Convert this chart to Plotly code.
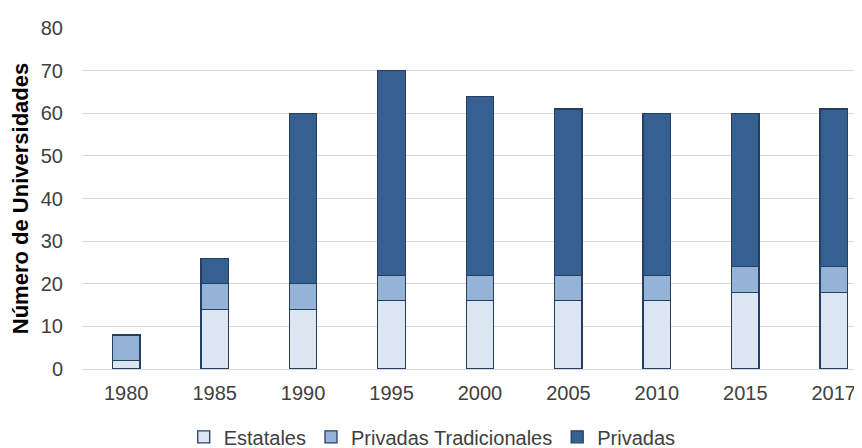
import plotly.graph_objects as go

years = ["1980", "1985", "1990", "1995", "2000", "2005", "2010", "2015", "2017"]
estatales = [2, 14, 14, 16, 16, 16, 16, 18, 18]
privadas_trad = [6, 6, 6, 6, 6, 6, 6, 6, 6]
privadas = [0, 6, 40, 48, 42, 39, 38, 36, 37]
y_ticks = [0, 10, 20, 30, 40, 50, 60, 70, 80]

FONT = "Liberation Sans, Arial, sans-serif"
line = dict(color="#243F60", width=1.3)

fig = go.Figure()
fig.add_trace(go.Bar(x=years, y=estatales, name="Estatales",
                     marker=dict(color="#DCE6F2", line=line)))
fig.add_trace(go.Bar(x=years, y=privadas_trad, name="Privadas Tradicionales",
                     marker=dict(color="#95B3D7", line=line)))
fig.add_trace(go.Bar(x=years, y=privadas, name="Privadas",
                     marker=dict(color="#366092", line=line)))

# page body has an 8px margin, so the figure is 854x440 and offset by 8px
fig.update_layout(
    barmode="stack",
    bargap=0.69,
    width=854, height=440,
    margin=dict(l=74, r=0, t=20, b=79, autoexpand=False),
    paper_bgcolor="white", plot_bgcolor="white",
    font=dict(family=FONT, size=20, color="#404040"),
    legend=dict(orientation="h", traceorder="normal",
                x=0.449, xanchor="center", y=-0.199, yanchor="middle",
                font=dict(size=20, color="#404040"), itemwidth=30),
    showlegend=True,
)
fig.update_xaxes(type="category", range=[-0.5, 8.32], showgrid=False, showline=False,
                 ticks="", automargin=False, ticklabelstandoff=10,
                 tickfont=dict(size=20, color="#404040"))
fig.update_yaxes(range=[0, 80], tickvals=y_ticks, showgrid=True, gridcolor="#D9D9D9",
                 gridwidth=1, zeroline=True, zerolinecolor="#D9D9D9", zerolinewidth=1,
                 showline=False, ticks="", automargin=False, ticklabelstandoff=18,
                 tickfont=dict(size=20, color="#404040"),
                 title=dict(text="<b>Número de Universidades</b>", standoff=8,
                            font=dict(size=22, color="#000000")))

fig.write_html("out.html")
